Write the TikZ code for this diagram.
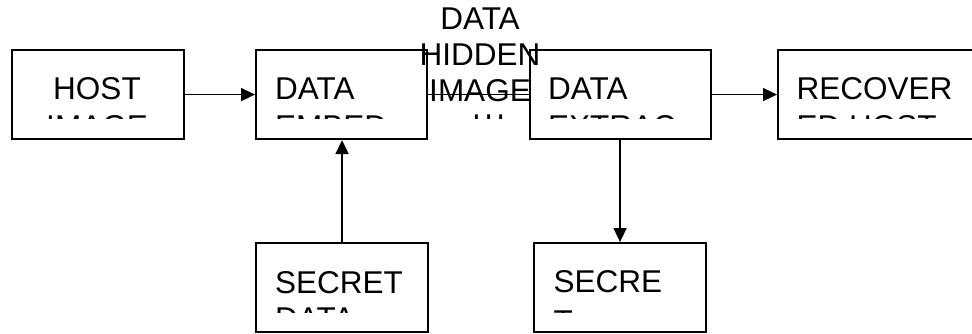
\documentclass[tikz,border=0pt]{standalone}
\usepackage{fontspec}
\setmainfont{Liberation Sans}
\usetikzlibrary{arrows.meta}
\begin{document}
\tikzset{
  blk/.style={draw, line width=2.1pt, inner sep=0pt, anchor=north west},
  txt/.style={inner sep=0pt, font=\fontsize{31.5}{36}\selectfont},
  link/.style={line width=1.7pt},
  arr/.style={link, -{Triangle[length=14pt,width=13pt]}},
}
\begin{tikzpicture}[x=1pt,y=-1pt]
\useasboundingbox (0,0) rectangle (972,333);
\clip (0,0) rectangle (972,333);

% blocks
\node[blk, minimum width=172pt, minimum height=89pt] (host)   at (11,49)  {};
\node[blk, minimum width=171pt, minimum height=89pt] (embed)  at (255,49) {};
\node[blk, minimum width=181pt, minimum height=89pt] (extrac) at (529,49) {};
\node[blk, minimum width=200pt, minimum height=89pt] (recov)  at (777,49) {};
\node[blk, minimum width=172pt, minimum height=89pt] (secret) at (255,242) {};
\node[blk, minimum width=172pt, minimum height=89pt] (secre)  at (533,242) {};

% block captions, cut off by their text frames
\begin{scope}
  \clip (11,49) rectangle (183,118);
  \node[txt, anchor=base] (host-a) at (97,99)  {HOST};
  \node[txt, anchor=base] (host-b) at (97,137) {IMAGE};
\end{scope}
\begin{scope}
  \clip (255,49) rectangle (426,118);
  \node[txt, anchor=base west] (embed-a) at (275,99)  {DATA};
  \node[txt, anchor=base west] (embed-b) at (275,137) {EMBED};
\end{scope}
\begin{scope}
  \clip (529,49) rectangle (710,118);
  \node[txt, anchor=base west] (extrac-a) at (548,99)  {DATA};
  \node[txt, anchor=base west] (extrac-b) at (548,137) {EXTRAC};
\end{scope}
\begin{scope}
  \clip (777,49) rectangle (972,118);
  \node[txt, anchor=base west] (recov-a) at (796.5,99)  {RECOVER};
  \node[txt, anchor=base west] (recov-b) at (796.5,137) {ED HOST};
\end{scope}
\begin{scope}
  \clip (255,242) rectangle (427,312);
  \node[txt, anchor=base west] (secret-a) at (275,293) {SECRET};
  \node[txt, anchor=base west] (secret-b) at (275,329) {DATA};
\end{scope}
\begin{scope}
  \clip (533,242) rectangle (705,312);
  \node[txt, anchor=base west] (secre-a) at (553.5,292) {SECRE};
  \node[txt, anchor=base west] (secre-b) at (553.5,332) {T};
\end{scope}

% label of the middle link
\begin{scope}
  \clip (400,0) rectangle (560,118);
  \node[txt, anchor=base] (tag-a) at (480,29)  {DATA};
  \node[txt, anchor=base] (tag-b) at (480,65)  {HIDDEN};
  \node[txt, anchor=base] (tag-c) at (480,101) {IMAGE};
  \node[txt, anchor=base west] (tag-d) at (472,136) {I\hspace{3.4pt}I\hspace{3.4pt}I};
\end{scope}

% links
\draw[arr]  (host.east)   -- (embed.west);
\draw[link] (embed.east)  -- (extrac.west);
\draw[arr]  (extrac.east) -- (recov.west);
\draw[arr]  (secret.north) -- (secret.north |- embed.south);
\draw[arr]  (secre.north |- extrac.south) -- (secre.north);
\end{tikzpicture}
\end{document}
